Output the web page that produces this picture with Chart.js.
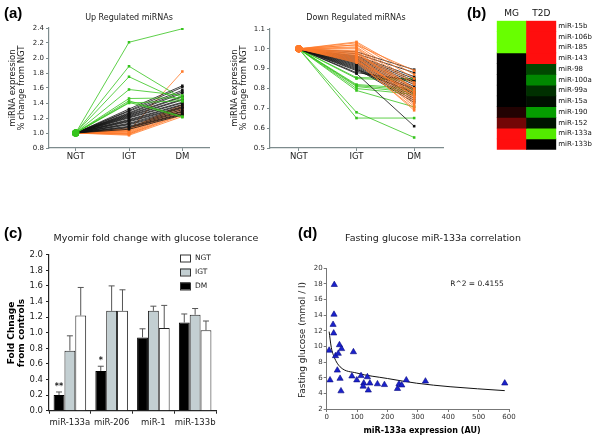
<!DOCTYPE html>
<html>
<head>
<meta charset="utf-8">
<script src="https://cdn.jsdelivr.net/npm/chart.js@4.4.1/dist/chart.umd.min.js"></script>
<style>
  body { margin: 0; background: #fff; }
  #wrap { position: relative; width: 600px; height: 441px; }
  #wrap canvas { position: absolute; left: 0; top: 0; }
  .lbl { position: absolute; font: bold 15px "Liberation Sans", Arial, sans-serif; color: #000; }
</style>
</head>
<body>
<div id="wrap">
  <canvas id="upChart" width="600" height="441"></canvas>
  <canvas id="downChart" width="600" height="441"></canvas>
  <canvas id="heatChart" width="600" height="441"></canvas>
  <canvas id="barChart" width="600" height="441"></canvas>
  <canvas id="scatChart" width="600" height="441"></canvas>
  <div class="lbl" style="left:4px;top:4px;">(a)</div>
  <div class="lbl" style="left:467px;top:4px;">(b)</div>
  <div class="lbl" style="left:4px;top:224px;">(c)</div>
  <div class="lbl" style="left:298px;top:224px;">(d)</div>
</div>
<script>
// ---- (a) miRNA lines: [IGT, DM], NGT is always 1.0
const stages = ['NGT', 'IGT', 'DM'];

const upGreen = [[2.21, 2.39], [1.89, 1.46], [1.75, 1.42], [1.58, 1.50], [1.46, 1.47], [1.43, 1.22], [1.41, 1.21], [1.40, 1.43]];
const upBlack = [[1.32, 1.63], [1.30, 1.61], [1.29, 1.57], [1.27, 1.55], [1.26, 1.53], [1.25, 1.49], [1.24, 1.48],
    [1.23, 1.45], [1.22, 1.44], [1.21, 1.41], [1.20, 1.40], [1.18, 1.38], [1.17, 1.37], [1.16, 1.35], [1.15, 1.34],
    [1.13, 1.33], [1.12, 1.31], [1.11, 1.29], [1.09, 1.28], [1.08, 1.26], [1.07, 1.25], [1.05, 1.24]];
const upOrange = [[1.03, 1.82], [1.06, 1.38], [1.05, 1.36], [1.04, 1.35], [1.03, 1.33], [1.02, 1.32], [1.01, 1.30],
    [1.00, 1.29], [0.99, 1.27], [0.99, 1.25], [0.98, 1.24], [0.97, 1.22]];

const downOrange = [[1.035, 0.87], [1.03, 0.85], [1.02, 0.89], [1.02, 0.83], [1.01, 0.82], [1.005, 0.80], [1.00, 0.79],
    [0.99, 0.78], [0.985, 0.77], [0.98, 0.76], [0.975, 0.80], [0.97, 0.75], [0.965, 0.74], [0.96, 0.73], [0.955, 0.76],
    [0.95, 0.72], [0.945, 0.71], [0.94, 0.69], [0.935, 0.78], [0.93, 0.70]];
const downBlack = [[0.985, 0.895], [0.975, 0.88], [0.965, 0.86], [0.96, 0.85], [0.955, 0.84], [0.95, 0.83], [0.945, 0.82],
    [0.94, 0.81], [0.935, 0.80], [0.93, 0.79], [0.925, 0.78], [0.92, 0.77], [0.915, 0.76], [0.91, 0.75], [0.905, 0.74],
    [0.90, 0.73], [0.895, 0.80], [0.89, 0.78], [0.88, 0.84], [0.875, 0.61]];
const downGreen = [[0.855, 0.85], [0.85, 0.84], [0.82, 0.80], [0.815, 0.79], [0.81, 0.78], [0.80, 0.77], [0.79, 0.707],
    [0.68, 0.553], [0.651, 0.651]];

// ---- (b) heatmap, +1 = red (up), -1 = green (down)
const heatRows = ['miR-15b', 'miR-106b', 'miR-185', 'miR-143', 'miR-98', 'miR-100a', 'miR-99a', 'miR-15a',
    'miR-190', 'miR-152', 'miR-133a', 'miR-133b'];
const heatCols = ['MG', 'T2D'];
const mgValues = [-1, -1, -1, 0, 0, 0, 0, 0, 0.13, 0.45, 1, 1];
const t2dValues = [1, 1, 1, 1, -0.28, -0.53, -0.19, -0.06, -0.62, -0.08, -0.92, 0];

// ---- (c) myomir fold change
const myomirs = ['miR-133a', 'miR-206', 'miR-1', 'miR-133b'];
const dmFold = [0.20, 0.51, 0.94, 1.13];
const igtFold = [0.77, 1.28, 1.28, 1.23];
const ngtFold = [1.22, 1.28, 1.06, 1.03];
const dmErr = [0.04, 0.06, 0.11, 0.11];
const igtErr = [0.19, 0.32, 0.06, 0.08];
const ngtErr = [0.36, 0.27, 0.29, 0.12];
const sigMarks = ['**', '*', '', ''];

// ---- (d) fasting glucose vs miR-133a
const glucosePoints = [[25, 17.9], [24, 14.1], [21, 12.8], [23, 11.7], [8, 9.5], [11, 5.7], [29, 8.8], [38, 9.1],
    [42, 10.2], [49, 9.7], [35, 6.95], [44, 5.9], [47, 4.3], [88, 9.3], [83, 6.2], [99, 5.7], [113, 6.25], [122, 5.3],
    [120, 4.9], [134, 6.1], [137, 4.4], [142, 5.3], [167, 5.2], [190, 5.1], [233, 4.6], [238, 5.2], [247, 5.05],
    [262, 5.7], [325, 5.55], [586, 5.3]];
const trendPoints = [[8, 11.9], [15, 9.9], [25, 8.6], [44, 7.4], [99, 6.6], [200, 5.9], [296, 5.3], [406, 4.85], [586, 4.35]];

const FONT = '"DejaVu Sans", Verdana, sans-serif';
Chart.defaults.font.family = FONT;
Chart.defaults.animation = false;
Chart.defaults.plugins.legend.display = false;
Chart.defaults.plugins.tooltip.enabled = false;

// free text drawn in page coordinates (every canvas covers the whole page)
const textPlugin = {
    id: 'texts',
    afterDraw(chart, args, opts) {
        const ctx = chart.ctx;
        (opts.items || []).forEach(it => {
            ctx.save();
            ctx.font = `${it.bold ? 'bold ' : ''}${it.size}px ${FONT}`;
            ctx.fillStyle = it.color || '#222';
            ctx.textAlign = it.align || 'center';
            ctx.textBaseline = 'middle';
            ctx.translate(it.x, it.y);
            if (it.rot) ctx.rotate(it.rot);
            ctx.fillText(it.t, 0, 0);
            ctx.restore();
        });
    }
};

// padding that puts the chart area at (l,t)-(r,b), given fixed axis sizes
function pad(l, t, r, b, yw, xh) {
    return { left: l - yw, top: t, right: 600 - r, bottom: 441 - b - xh };
}

function lineSets(groups) {
    const sets = [];
    groups.forEach(g => {
        g.rows.forEach(row => {
            sets.push({
                data: [1.0, row[0], row[1]],
                borderColor: g.color,
                backgroundColor: g.color,
                borderWidth: 0.8,
                pointStyle: ['circle', 'rect', 'rect'],
                pointRadius: [g.big, 1.8, 1.8],
                pointBorderWidth: 0
            });
        });
    });
    return sets;
}

function linePanel(id, groups, area, yMin, yMax, step, title, titleX, axisX) {
    const grey = '#7d8b8d';
    new Chart(document.getElementById(id), {
        type: 'line',
        data: { labels: stages, datasets: lineSets(groups) },
        options: {
            responsive: false,
            layout: { padding: pad(area[0], area[1], area[2], area[3], 26, 16) },
            scales: {
                x: {
                    offset: true,
                    grid: { display: true, drawOnChartArea: false, tickLength: 3, color: grey, offset: false },
                    border: { color: grey, width: 1.2 },
                    ticks: { color: '#222', font: { size: 8.5 }, padding: 1 },
                    afterFit(s) { s.height = 16; }
                },
                y: {
                    min: yMin, max: yMax,
                    grid: { display: true, drawOnChartArea: false, tickLength: 3, color: grey },
                    border: { color: grey, width: 1.2 },
                    ticks: { stepSize: step, color: '#222', font: { size: 7 }, padding: 2, callback: v => v.toFixed(1) },
                    afterFit(s) { s.width = 26; }
                }
            },
            plugins: {
                texts: {
                    items: [
                        { t: title, x: titleX, y: 18, size: 8 },
                        { t: 'miRNA expression', x: axisX, y: 88, size: 8.5, rot: -Math.PI / 2 },
                        { t: '% change from NGT', x: axisX + 9, y: 88, size: 8.5, rot: -Math.PI / 2 }
                    ]
                }
            }
        },
        plugins: [textPlugin]
    });
}

const GREEN = '#35c41c', ORANGE = '#ff7a2a', BLACK = '#111111';

linePanel('upChart', [
    { rows: upGreen, color: GREEN, big: 3.5 },
    { rows: upBlack, color: BLACK, big: 2 },
    { rows: upOrange, color: ORANGE, big: 2 }
], [49, 28, 209, 148], 0.8, 2.4, 0.2, 'Up Regulated miRNAs', 129, 13);

linePanel('downChart', [
    { rows: downOrange, color: ORANGE, big: 3.5 },
    { rows: downBlack, color: BLACK, big: 2 },
    { rows: downGreen, color: GREEN, big: 2 }
], [270, 29, 443, 148], 0.5, 1.1, 0.1, 'Down Regulated miRNAs', 356, 235);

// ---- (b)
function heatColor(v) {
    const a = Math.abs(v);
    if (v >= 0) return `rgb(${Math.round(255 * a)},${Math.round(14 * a)},${Math.round(14 * a)})`;
    return `rgb(${Math.round(Math.max(0, a - 0.6) * 260)},${Math.round(255 * a)},0)`;
}

new Chart(document.getElementById('heatChart'), {
    type: 'bar',
    data: {
        labels: heatCols,
        datasets: heatRows.map((r, i) => ({
            label: r,
            data: [1, 1],
            backgroundColor: [heatColor(mgValues[i]), heatColor(t2dValues[i])],
            borderWidth: 0,
            barPercentage: 1,
            categoryPercentage: 1
        }))
    },
    options: {
        responsive: false,
        layout: { padding: { left: 496.7, top: 20.7, right: 43.7, bottom: 291.3 } },
        scales: {
            x: { stacked: true, display: false },
            y: { stacked: true, reverse: true, min: 0, max: heatRows.length, display: false }
        }
    },
    plugins: [{
        id: 'heatLabels',
        afterDraw(chart) {
            const ctx = chart.ctx, x = chart.scales.x, y = chart.scales.y;
            ctx.save();
            ctx.fillStyle = '#111';
            ctx.textBaseline = 'middle';
            ctx.font = `9px ${FONT}`;
            ctx.textAlign = 'center';
            heatCols.forEach((c, i) => ctx.fillText(c, x.getPixelForValue(i), 14));
            ctx.font = `7px ${FONT}`;
            ctx.textAlign = 'left';
            heatRows.forEach((r, i) => ctx.fillText(r, chart.chartArea.right + 2, y.getPixelForValue(i + 0.5)));
            ctx.restore();
        }
    }]
});

// ---- (c)
const errPlugin = {
    id: 'errBars',
    afterDatasetsDraw(chart) {
        const ctx = chart.ctx, y = chart.scales.y;
        ctx.save();
        ctx.strokeStyle = '#555';
        ctx.lineWidth = 1;
        chart.data.datasets.forEach((ds, di) => {
            chart.getDatasetMeta(di).data.forEach((bar, i) => {
                const top = y.getPixelForValue(ds.data[i] + ds.err[i]);
                ctx.beginPath();
                ctx.moveTo(bar.x, bar.y);
                ctx.lineTo(bar.x, top);
                ctx.moveTo(bar.x - 3, top);
                ctx.lineTo(bar.x + 3, top);
                ctx.stroke();
                if (ds.marks && ds.marks[i]) {
                    ctx.fillStyle = '#222';
                    ctx.font = `bold 8px ${FONT}`;
                    ctx.textAlign = 'center';
                    ctx.fillText(ds.marks[i], bar.x, top - 3);
                }
            });
        });
        // legend, top right, NGT first
        const items = chart.data.datasets.slice().reverse();
        ctx.font = `7.5px ${FONT}`;
        ctx.textAlign = 'left';
        ctx.textBaseline = 'middle';
        items.forEach((ds, k) => {
            const yy = 254.5 + k * 14;
            ctx.fillStyle = ds.backgroundColor;
            ctx.fillRect(180, yy, 10, 7);
            ctx.strokeStyle = '#333';
            ctx.strokeRect(180.5, yy + 0.5, 10, 7);
            ctx.fillStyle = '#222';
            ctx.fillText(ds.label, 195, yy + 4);
        });
        ctx.restore();
    }
};

new Chart(document.getElementById('barChart'), {
    type: 'bar',
    data: {
        labels: myomirs,
        datasets: [
            { label: 'DM', data: dmFold, err: dmErr, marks: sigMarks, backgroundColor: '#000', borderColor: '#000', borderWidth: 1 },
            { label: 'IGT', data: igtFold, err: igtErr, backgroundColor: '#c3cfd2', borderColor: '#222', borderWidth: 1 },
            { label: 'NGT', data: ngtFold, err: ngtErr, backgroundColor: '#fff', borderColor: '#222', borderWidth: 1 }
        ]
    },
    options: {
        responsive: false,
        layout: { padding: pad(49, 254.7, 216, 410.7, 30, 22) },
        datasets: { bar: { barPercentage: 1, categoryPercentage: 0.78 } },
        scales: {
            x: {
                grid: { display: true, drawOnChartArea: false, tickLength: 3, color: '#222', offset: true },
                border: { color: '#222', width: 1.2 },
                ticks: { color: '#222', font: { size: 8.5 }, padding: 4, maxRotation: 0, minRotation: 0, autoSkip: false },
                afterFit(s) { s.height = 22; }
            },
            y: {
                min: 0, max: 2,
                grid: { display: true, drawOnChartArea: false, tickLength: 3, color: '#222' },
                border: { color: '#222', width: 1.2 },
                ticks: { stepSize: 0.2, color: '#222', font: { size: 8.5 }, padding: 3, callback: v => v.toFixed(1) },
                afterFit(s) { s.width = 30; }
            }
        },
        plugins: {
            texts: {
                items: [
                    { t: 'Myomir fold change with glucose tolerance', x: 156, y: 239, size: 9.5 },
                    { t: 'Fold Chnage', x: 12, y: 333, size: 9, bold: true, rot: -Math.PI / 2, color: '#000' },
                    { t: 'from controls', x: 22, y: 333, size: 9, bold: true, rot: -Math.PI / 2, color: '#000' }
                ]
            }
        }
    },
    plugins: [textPlugin, errPlugin]
});

// ---- (d)
new Chart(document.getElementById('scatChart'), {
    type: 'scatter',
    data: {
        datasets: [
            {
                data: glucosePoints.map(p => ({ x: p[0], y: p[1] })),
                pointStyle: 'triangle',
                pointRadius: 3.6,
                backgroundColor: '#1a22cc',
                borderColor: '#0a0a80',
                borderWidth: 0.6
            },
            {
                type: 'line',
                data: trendPoints.map(p => ({ x: p[0], y: p[1] })),
                borderColor: '#111',
                borderWidth: 1,
                pointRadius: 0,
                cubicInterpolationMode: 'monotone',
                fill: false
            }
        ]
    },
    options: {
        responsive: false,
        layout: { padding: pad(326.7, 268.3, 509, 409, 18, 14) },
        scales: {
            x: {
                type: 'linear', min: 0, max: 600,
                grid: { display: true, drawOnChartArea: false, tickLength: 3, color: '#777' },
                border: { color: '#777', width: 1 },
                ticks: { stepSize: 100, color: '#333', font: { size: 7 }, padding: 1, maxRotation: 0 },
                afterFit(s) { s.height = 14; }
            },
            y: {
                min: 2, max: 20,
                grid: { display: true, drawOnChartArea: false, tickLength: 3, color: '#777' },
                border: { color: '#777', width: 1 },
                ticks: { stepSize: 2, color: '#333', font: { size: 7 }, padding: 1 },
                afterFit(s) { s.width = 18; }
            }
        },
        plugins: {
            texts: {
                items: [
                    { t: 'Fasting glucose miR-133a correlation', x: 433, y: 239, size: 9.5 },
                    { t: 'R^2 = 0.4155', x: 477, y: 284, size: 7.5 },
                    { t: 'miR-133a expression (AU)', x: 422, y: 431, size: 8, bold: true, color: '#000' },
                    { t: 'Fasting glucose (mmol / l)', x: 303, y: 340, size: 9, rot: -Math.PI / 2 }
                ]
            }
        }
    },
    plugins: [textPlugin]
});
</script>
</body>
</html>
